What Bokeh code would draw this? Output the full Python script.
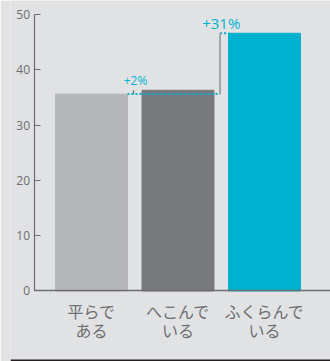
from bokeh.plotting import figure
from bokeh.models import Range1d, LinearAxis, FixedTicker, ColumnDataSource
from bokeh.core.properties import value
from bokeh.embed import file_html
from bokeh.resources import INLINE

# Survey shares (%) by shape category
categories = ["平らで\nある", "へこんで\nいる", "ふくらんで\nいる"]
positions = [1, 2, 3]
shares = [35.6, 36.3, 46.6]
bar_colors = ["#b6b7b9", "#77787b", "#00b2d0"]
y_ticks = [0, 10, 20, 30, 40, 50]

BG = "#e1e2e4"
AXIS = "#6d6e71"
CYAN = "#00b2d0"
FONT = "Open Sans"
JP_FONT = "Noto Sans CJK JP"

bar_w = 0.832
x_start, x_end = 0.0636, 3.763
y_start, y_end = -12.75, 52.53
axis_x = 0.3468

p = figure(width=330, height=361, output_backend="svg", toolbar_location=None,
           x_range=Range1d(x_start, x_end), y_range=Range1d(y_start, y_end),
           x_axis_type=None, y_axis_type=None,
           min_border_left=10, min_border_right=0,
           min_border_top=0, min_border_bottom=0)
p.background_fill_color = BG
p.border_fill_color = BG
p.outline_line_color = None
p.xgrid.visible = False
p.ygrid.visible = False

src = ColumnDataSource(dict(x=positions, top=shares, color=bar_colors))
p.vbar(x="x", top="top", bottom=0, width=bar_w, color="color", source=src)

# y axis pinned to its spot inside the frame
yax = LinearAxis(fixed_location=axis_x, bounds=(0, 50),
                 ticker=FixedTicker(ticks=y_ticks))
yax.axis_line_color = AXIS
yax.axis_line_width = 1.2
yax.major_tick_line_color = AXIS
yax.major_tick_line_width = 1.2
yax.major_tick_in = 6
yax.major_tick_out = 0
yax.minor_tick_line_color = None
yax.major_label_text_font = FONT
yax.major_label_text_font_size = "12px"
yax.major_label_text_color = AXIS
yax.major_label_standoff = 5
p.add_layout(yax, "left")

# category axis along the zero line
xax = LinearAxis(fixed_location=0, bounds=(axis_x, x_end),
                 ticker=FixedTicker(ticks=positions))
xax.major_label_overrides = {pos: lab for pos, lab in zip(positions, categories)}
xax.axis_line_color = AXIS
xax.axis_line_width = 1.5
xax.major_tick_line_color = None
xax.minor_tick_line_color = None
xax.major_tick_in = 0
xax.major_tick_out = 0
xax.major_label_text_font = JP_FONT
xax.major_label_text_font_size = "16px"
xax.major_label_text_color = AXIS
xax.major_label_standoff = 8
xax.major_label_text_line_height = 0.8
p.add_layout(xax, "below")

# comparison markers
base = shares[0]
half = bar_w / 2
bracket_x = 2.486
small_x = 1.486

p.line([positions[0] + half, bracket_x], [base, base],
       line_color=CYAN, line_width=2, line_dash="2 2")
p.line([bracket_x, positions[2] - half], [shares[2], shares[2]],
       line_color=CYAN, line_width=2, line_dash="2 2")
p.segment(x0=[small_x], y0=[base], x1=[small_x], y1=[shares[1]],
          line_color="#6d6e71", line_width=1.2)
p.segment(x0=[bracket_x], y0=[base], x1=[bracket_x], y1=[shares[2]],
          line_color="#a3a4a7", line_width=2)

pct2 = round((shares[1] / base - 1) * 100)
pct3 = round((shares[2] / base - 1) * 100)
p.text(x=[1.509], y=[38.1], text=[f"+{pct2}%"], text_font=value(FONT),
       text_font_size="12px", text_color=CYAN,
       text_align="center", text_baseline="middle")
p.text(x=[2.5], y=[48.4], text=[f"+{pct3}%"], text_font=value(FONT),
       text_font_size="15px", text_color=CYAN,
       text_align="center", text_baseline="middle")

# rule along the bottom
p.segment(x0=[x_start], y0=[-12.55], x1=[x_end], y1=[-12.55],
          line_color="#231f20", line_width=2)

open("out.html", "w").write(file_html(p, INLINE))
